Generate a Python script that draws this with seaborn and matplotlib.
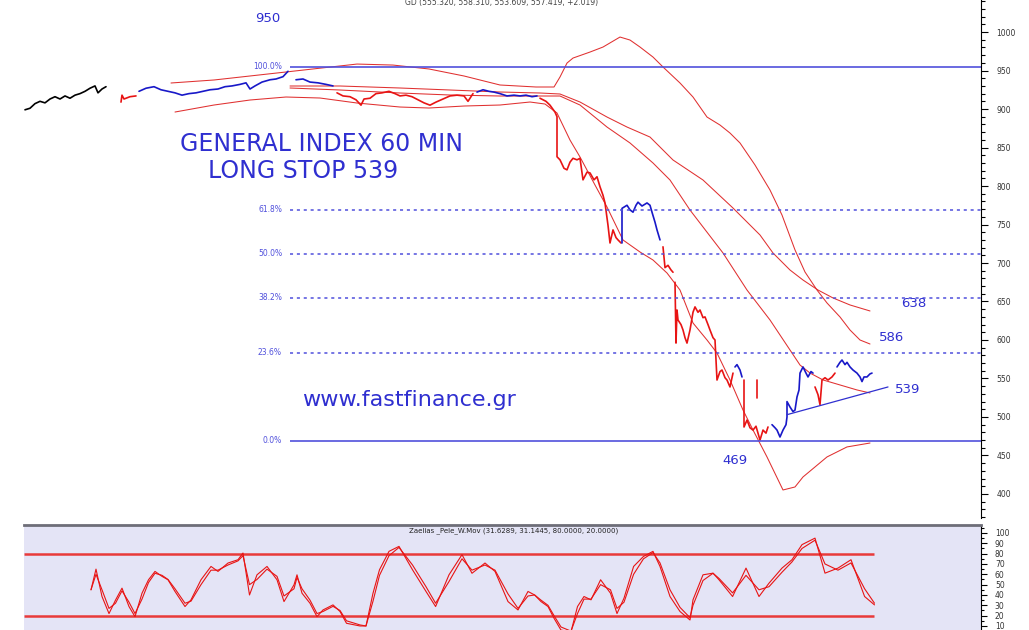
import pandas as pd
import seaborn as sns
import matplotlib.pyplot as plt
from matplotlib.ticker import MultipleLocator

# price path, split where the trend colour changes (bar index, price)
black_t = [25, 30, 35, 40, 45, 50, 55, 60, 65, 70, 75, 80, 85, 90, 95, 98, 102, 106]
black_p = [899, 901, 907, 910, 908, 913, 916, 913, 917, 914, 918, 920, 923, 927, 930, 921, 926, 929]

segments = [
    ('flat', black_t, black_p),
    ('down', [121, 122, 124, 130, 136], [909, 918, 913, 916, 917]),
    ('up', [139, 146, 154, 161, 168, 175, 182, 189, 196, 203, 210, 218, 225, 232, 240, 246, 250, 255, 262, 270, 276, 283, 288],
           [923, 927, 929, 925, 923, 921, 918, 920, 921, 923, 925, 926, 929, 930, 932, 934, 926, 930, 935, 938, 939, 942, 949]),
    ('up', [296, 303, 310, 318, 326, 333], [938, 939, 935, 934, 932, 930]),
    ('down', [337, 343, 350, 356, 361, 364, 370, 376, 382, 389, 395, 400, 406, 412, 418, 424, 430, 436, 443, 450, 457, 464, 468, 473],
             [921, 917, 916, 912, 905, 913, 914, 920, 921, 923, 920, 917, 918, 916, 912, 908, 905, 909, 913, 917, 918, 917, 910, 920]),
    ('up', [477, 483, 489, 494, 500, 507, 514, 520, 526, 532, 537],
           [922, 925, 923, 922, 920, 917, 918, 917, 918, 916, 917]),
    ('down', [540, 546, 550, 555, 557, 557, 560, 564, 567, 570, 573, 577, 580, 583, 587, 590, 594, 597, 600, 603, 605, 608, 610, 613, 616, 618, 621],
             [914, 910, 905, 896, 890, 838, 834, 823, 821, 831, 836, 834, 836, 808, 818, 817, 808, 812, 799, 788, 778, 749, 726, 743, 733, 730, 726]),
    ('up', [622, 622, 627, 630, 633, 636, 638, 642, 647, 650, 652, 655, 657, 660],
           [726, 771, 775, 769, 766, 775, 779, 774, 778, 775, 766, 753, 743, 730]),
    ('down', [663, 665, 668, 671, 673], [721, 694, 697, 691, 688]),
    ('down', [675, 676, 677, 678, 681, 683, 685, 687, 690, 693, 695, 698, 700, 703, 705, 708, 710, 713, 715, 717, 720, 722, 725, 727, 730, 733],
             [675, 596, 639, 626, 620, 613, 603, 596, 613, 636, 643, 636, 639, 629, 630, 620, 613, 603, 600, 548, 559, 561, 551, 548, 539, 557]),
    ('up', [735, 737, 740, 742], [565, 568, 561, 552]),
    ('down', [744, 744, 747, 750, 753, 756, 760, 763, 766, 768], [548, 487, 496, 486, 483, 488, 470, 483, 479, 487]),
    ('down', [757, 757], [548, 525]),
    ('up', [772, 775, 777, 780, 783, 786, 787, 787, 790, 793, 795, 797, 799, 800, 803, 806, 808, 811, 813],
           [490, 486, 483, 474, 483, 490, 500, 520, 513, 507, 509, 526, 535, 557, 565, 557, 552, 559, 557]),
    ('down', [815, 818, 820, 822, 825, 828, 832, 835], [539, 529, 516, 548, 551, 548, 552, 557]),
    ('up', [837, 840, 842, 845, 847, 850, 853, 857, 860, 862, 864, 867, 870, 872],
           [565, 571, 574, 568, 571, 565, 561, 557, 552, 546, 552, 552, 556, 557]),
]

# envelope / moving average lines
upper_t = [171, 214, 286, 357, 393, 429, 464, 500, 536, 554, 560, 567, 573, 590, 603, 620, 630, 640, 653, 663, 680, 693, 707, 720, 730, 740, 755, 770, 782, 795, 805, 817, 827, 840, 850, 860, 870]
upper_p = [933.8, 937.7, 948.1, 958.4, 957.1, 952.0, 942.9, 931.2, 928.6, 928.6, 941.6, 959.7, 966.2, 974.0, 980.5, 993.5, 989.6, 980.5, 967.5, 954.6, 933.8, 915.6, 889.6, 879.2, 868.8, 855.9, 827.3, 794.8, 762.3, 717.0, 688.3, 664.9, 648.1, 629.9, 613.0, 600.0, 594.8]
ma1_t = [290, 340, 400, 450, 500, 540, 560, 580, 607, 627, 650, 673, 703, 733, 760, 773, 790, 803, 818, 833, 850, 870]
ma1_p = [929.9, 929.9, 927.3, 924.7, 922.1, 920.8, 919.5, 909.1, 889.6, 876.6, 863.6, 833.8, 807.8, 771.4, 736.4, 713.0, 690.9, 677.9, 664.9, 654.6, 645.5, 637.7]
ma2_t = [290, 340, 400, 450, 500, 540, 560, 580, 607, 630, 653, 670, 690, 723, 747, 770, 790, 800, 810, 823, 840, 857, 870]
ma2_p = [927.3, 924.7, 920.8, 918.2, 916.9, 916.9, 916.9, 905.2, 876.6, 855.9, 829.9, 807.8, 768.8, 713.0, 664.9, 626.0, 587.0, 567.5, 557.1, 548.1, 541.6, 535.1, 531.2]
lower_t = [175, 214, 250, 286, 320, 357, 400, 429, 464, 500, 530, 545, 557, 570, 580, 595, 607, 623, 640, 653, 667, 680, 693, 707, 717, 730, 743, 753, 767, 783, 795, 803, 815, 827, 847, 870]
lower_p = [896.1, 905.2, 911.7, 915.6, 914.3, 907.8, 902.6, 901.3, 903.9, 905.2, 909.1, 906.5, 894.8, 859.7, 837.7, 801.3, 772.7, 729.9, 714.3, 703.9, 687.0, 664.9, 622.1, 600.0, 583.1, 548.1, 509.1, 483.1, 448.1, 405.2, 409.1, 422.1, 435.1, 448.1, 461.1, 466.2]

# fibonacci retracement 469 -> 955
fib_labels = ['0.0%', '23.6%', '38.2%', '50.0%', '61.8%', '100.0%']
fib_levels = [469, 583.7, 654.7, 712, 769.3, 955]
fib_solid = [True, False, False, False, False, True]

trend_t = [787, 888]
trend_p = [503, 539]

# oscillator (fast / slow)
osc_t = [91, 96, 102, 109, 115.5, 122, 129, 135, 142, 148.5, 155, 162, 168, 175, 185, 191, 201, 211, 218, 228,
         238, 243, 249.5, 257, 267, 277, 284, 294, 297, 302, 310, 317, 323, 333, 340, 346.5, 360, 366, 373, 379.5,
         389, 399, 412.5, 426, 435.6, 449, 462, 472, 485, 495, 508, 518, 528, 534.6, 541, 548, 554, 561, 571, 577.5,
         584, 591, 600.6, 610.5, 617, 624, 633.6, 643.5, 653, 660, 670, 680, 690, 693, 703, 713, 719, 732.6, 746, 759,
         769, 782, 792, 802, 815, 825, 838, 851, 864.6, 874.5]
osc_fast = [45, 65, 38.5, 22, 35, 46.6, 28.8, 19, 41.7, 54.7, 62.8, 58, 54.7, 43.4, 28.8, 35.3, 54.7, 67.6, 62.8, 70.9,
            74.1, 80.6, 40, 59.5, 67.6, 54.7, 33.6, 49.8, 59.5, 41.7, 32, 19, 25.5, 30.4, 24, 12.6, 10, 10, 41.7, 64.4,
            82.2, 87, 64.4, 43.4, 28.8, 59.5, 79, 61, 70.9, 62.8, 33.6, 25.5, 43.4, 40, 33.6, 28.8, 17.5, 6, 4.5, 28.8,
            38.5, 35.3, 54.7, 41.7, 22, 36.9, 67.6, 77.3, 82.2, 67.6, 38.5, 24, 15.8, 35.3, 59.5, 61.1, 54.7, 38.5, 66, 38.5,
            51.4, 66, 74.1, 88.7, 95, 61.1, 66, 74.1, 38.5, 30.4]
osc_slow = [45, 60, 45, 27, 32, 44, 33, 22, 36, 52, 61, 59, 55, 46, 32, 34, 50, 64, 64, 69,
            73, 78, 50, 55, 65, 58, 39, 46, 57, 46, 35, 22, 24, 29, 25, 15, 11, 10, 34, 59,
            78, 86, 69, 48, 32, 53, 75, 64, 69, 64, 41, 27, 39, 40, 35, 30, 20, 9, 5, 22,
            36, 36, 50, 45, 27, 33, 60, 75, 81, 71, 45, 28, 18, 30, 54, 61, 56, 42, 59, 45,
            48, 62, 72, 85, 93, 70, 64, 71, 46, 32]
osc_bands = [80, 20]

RED = '#e81414'
BAND = '#e03030'
BLUE = '#1818c8'
TXT = '#2f2fd0'
FIB = '#5050dc'

rows = []
for i, (trend, ts, ps) in enumerate(segments):
    for t, p in zip(ts, ps):
        rows.append({'t': t, 'price': p, 'trend': trend, 'seg': i})
df = pd.DataFrame(rows)

sns.set_theme(style='white')
plt.rcParams['font.family'] = ['DejaVu Sans']

fig = plt.figure(figsize=(10.29, 6.3), dpi=100)
ax = fig.add_axes([24 / 1029, 112 / 630, 957 / 1029, 518 / 630])
osc = fig.add_axes([24 / 1029, 0, 957 / 1029, 105 / 630])

# bands
for ts, ps in [(upper_t, upper_p), (ma1_t, ma1_p), (ma2_t, ma2_p), (lower_t, lower_p)]:
    sns.lineplot(x=ts, y=ps, ax=ax, color=BAND, linewidth=0.75, sort=False, estimator=None)

sns.lineplot(data=df, x='t', y='price', hue='trend', units='seg', estimator=None, sort=False,
             palette={'flat': 'black', 'down': RED, 'up': BLUE}, linewidth=1.2, legend=False, ax=ax)

# fib levels
for lab, lev, solid in zip(fib_labels, fib_levels, fib_solid):
    ax.hlines(lev, 290, 981, color=FIB, linewidth=1.2 if solid else 1.1,
              linestyles='-' if solid else (0, (2, 2.5)))
    ax.text(282, lev, lab, ha='right', va='center', fontsize=5.5, color=FIB)

sns.lineplot(x=trend_t, y=trend_p, ax=ax, color='#3030d0', linewidth=0.9)

ax.text(180, 845.5, 'GENERAL INDEX 60 MIN', fontsize=17, color=TXT, va='baseline')
ax.text(208, 810.4, 'LONG STOP 539', fontsize=17, color=TXT, va='baseline')
ax.text(302, 514.3, 'www.fastfinance.gr', fontsize=16, color=TXT, va='baseline')
ax.text(255, 1018, '950', fontsize=9.5, color=TXT, va='center')
ax.text(901, 648, '638', fontsize=9.5, color=TXT, va='center')
ax.text(879, 603, '586', fontsize=9.5, color=TXT, va='center')
ax.text(895, 536, '539', fontsize=9.5, color=TXT, va='center')
ax.text(722, 443, '469', fontsize=9.5, color=TXT, va='center')

ax.set_xlim(24, 981)
ax.set_ylim(368.8, 1041.6)
ax.set_xticks([])
ax.set_xlabel('')
ax.set_ylabel('')
ax.yaxis.tick_right()
ax.yaxis.set_major_locator(MultipleLocator(50))
ax.yaxis.set_minor_locator(MultipleLocator(10))
ax.tick_params(axis='y', which='major', length=5, width=0.8, color='black', labelsize=5.5,
               labelcolor='#333333', pad=6, right=True, left=False)
ax.tick_params(axis='y', which='minor', length=3, width=0.8, color='black', right=True, left=False)
for s in ['left', 'top', 'bottom']:
    ax.spines[s].set_visible(False)
ax.spines['right'].set_color('black')
ax.spines['right'].set_linewidth(0.8)

fig.text(502 / 1029, 1 - 3 / 630, 'GD (555.320, 558.310, 553.609, 557.419, +2.019)',
         ha='center', va='center', fontsize=5.5, color='#444444')

# oscillator panel
osc.set_facecolor('#e4e4f6')
for lev in osc_bands:
    osc.hlines(lev, 24, 874, color='#e83a3a', linewidth=1.8)
sns.lineplot(x=osc_t, y=osc_slow, ax=osc, color=RED, linewidth=0.8, sort=False, estimator=None)
sns.lineplot(x=osc_t, y=osc_fast, ax=osc, color=RED, linewidth=0.8, sort=False, estimator=None)
osc.text(514, 102.5, 'Zaelias _Pele_W.Mov (31.6289, 31.1445, 80.0000, 20.0000)', ha='center', va='center',
         fontsize=5, color='#222222')
osc.set_xlim(24, 981)
osc.set_ylim(6.1, 107.7)
osc.set_xticks([])
osc.yaxis.tick_right()
osc.yaxis.set_major_locator(MultipleLocator(10))
osc.yaxis.set_minor_locator(MultipleLocator(5))
osc.tick_params(axis='y', which='major', length=4, width=0.8, color='black', labelsize=5.5,
                labelcolor='#333333', pad=6, right=True, left=False)
osc.tick_params(axis='y', which='minor', length=2, width=0.8, color='black', right=True, left=False)
for s in ['left', 'bottom']:
    osc.spines[s].set_visible(False)
osc.spines['top'].set_color('#6e6e78')
osc.spines['top'].set_linewidth(2)
osc.spines['right'].set_color('black')
osc.spines['right'].set_linewidth(0.8)

fig.savefig('out.png', dpi=100, facecolor='white')
